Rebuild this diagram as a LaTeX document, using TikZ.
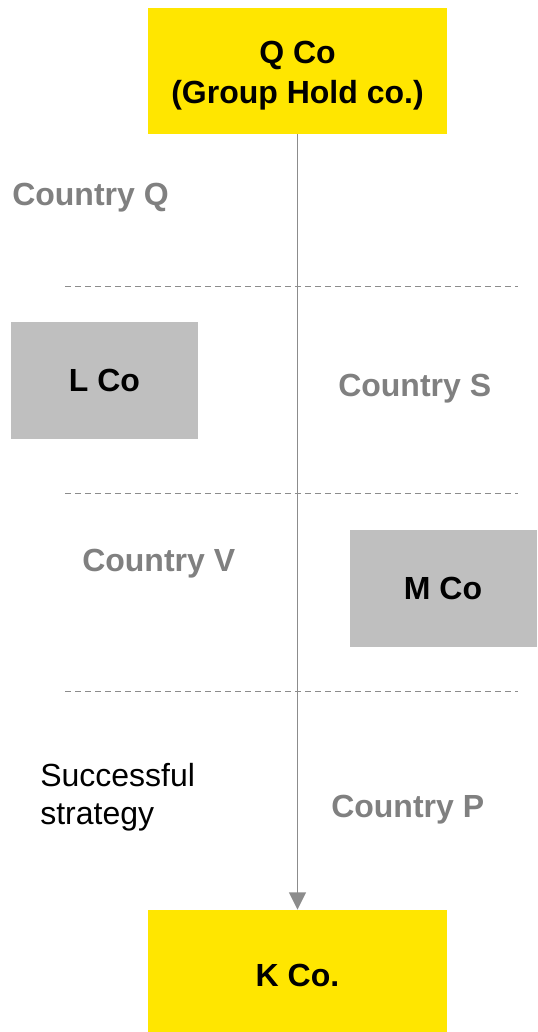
\documentclass[tikz,border=0pt]{standalone}
\usepackage{fontspec}
\setmainfont{Liberation Sans}
\usetikzlibrary{arrows.meta,positioning}
\definecolor{coyellow}{HTML}{FFE600}
\definecolor{cogray}{HTML}{BFBFBF}
\definecolor{countrygray}{HTML}{808080}
\definecolor{linegray}{HTML}{8C8C8C}
\tikzset{
  holdco/.style={fill=coyellow, minimum width=224.25pt, minimum height=94.5pt, align=center, font=\fontsize{24}{30}\selectfont\bfseries, inner sep=0pt},
  subco/.style={fill=cogray, minimum width=140.25pt, minimum height=87.75pt, align=center, font=\fontsize{24}{28}\selectfont\bfseries, inner sep=0pt},
  country/.style={text=countrygray, font=\fontsize{24}{28}\selectfont\bfseries, inner sep=0pt, anchor=base west},
  note/.style={align=left, font=\fontsize{24}{28.5}\selectfont, inner sep=0pt},
  border/.style={dashed, dash pattern=on 4.5pt off 3pt, linegray, line width=0.6pt},
  arrow/.style={-{Triangle[length=13pt, width=12.5pt]}, linegray, line width=1.3pt}
}

\begin{document}
\begin{tikzpicture}[x=0.75pt,y=0.75pt]
  \useasboundingbox (0,0) rectangle (537,-1032);
  % companies
  \node[holdco] (qco) at (297.5,-71) {\rule{0pt}{23.2pt}Q Co\\(Group Hold co.)};
  \node[holdco, minimum height=91.5pt, text height=22.5pt, text depth=0pt] (kco) at (297.5,-971) {K Co.};
  \node[subco] (lco) at (104.5,-380.5) {L Co};
  \node[subco] (mco) at (443,-588.5) {M Co};

  % country borders
  \draw[border] (65,-286) -- (518,-286);
  \draw[border] (65,-493) -- (518,-493);
  \draw[border] (65,-691) -- (518,-691);

  % countries
  \node[country] (cq) at (12,-205) {Country Q};
  \node[country] (cs) at (338,-396) {Country S};
  \node[country] (cv) at (82,-571) {Country V};
  \node[country] (cp) at (331,-817) {Country P};
  \node[note, anchor=west] (strat) at (40,-797.5) {Successful\\strategy};

  \draw[arrow] (qco.south) -- (kco.north);
\end{tikzpicture}
\end{document}
